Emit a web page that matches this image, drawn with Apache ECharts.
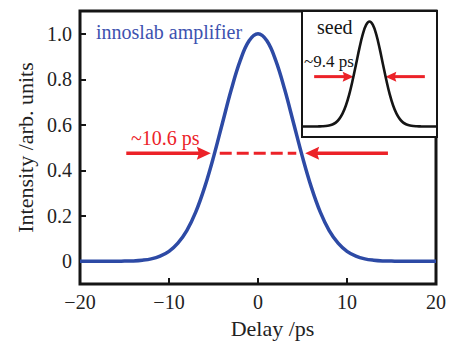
<!DOCTYPE html>
<html>
<head>
<meta charset="utf-8">
<script src="https://cdn.jsdelivr.net/npm/echarts@6/dist/echarts.min.js"></script>
<style>
  html, body { margin: 0; padding: 0; background: #fff; }
  #chart { width: 449px; height: 344px; }
</style>
</head>
<body>
<div id="chart"></div>
<script>
// Delay axis samples (ps)
const delayPs = [-20, -19, -18, -17, -16, -15, -14, -13, -12, -11, -10, -9, -8, -7, -6, -5, -4, -3, -2, -1,
  0, 1, 2, 3, 4, 5, 6, 7, 8, 9, 10, 11, 12, 13, 14, 15, 16, 17, 18, 19, 20];

// Amplified pulse (innoslab amplifier), normalised intensity
const amplifierIntensity = [0, 0, 0, 0, 0, 0.001, 0.002, 0.005, 0.011, 0.023, 0.044, 0.080, 0.135, 0.216, 0.325, 0.458, 0.607, 0.755, 0.882, 0.969,
  1.000, 0.969, 0.882, 0.755, 0.607, 0.458, 0.325, 0.216, 0.135, 0.080, 0.044, 0.023, 0.011, 0.005, 0.002, 0.001, 0, 0, 0, 0, 0];

// Seed pulse, normalised intensity (inset)
const seedIntensity = [0, 0, 0, 0, 0, 0.001, 0.002, 0.004, 0.009, 0.019, 0.037, 0.070, 0.122, 0.200, 0.306, 0.440, 0.591, 0.744, 0.877, 0.968,
  1.000, 0.968, 0.877, 0.744, 0.591, 0.440, 0.306, 0.200, 0.122, 0.070, 0.037, 0.019, 0.009, 0.004, 0.002, 0.001, 0, 0, 0, 0, 0];

// Tick positions
const xTicks = [-20, -10, 0, 10, 20];
const yTicks = [0, 0.2, 0.4, 0.6, 0.8, 1.0];

// Pulse widths (ps) and width markers
const amplifierWidthPs = 10.6;
const seedWidthPs = 9.4;
const markerLevel = 0.475;
const amplifierArrowTails = [-14.8, 14.6];
const seedArrowTails = [-16.4, 16.4];
const dashSpan = [-4.3, 4.3];

const RED = '#ec2228';
const BLUE = '#2d4aa5';
const INK = '#151515';
const SERIF = 'Liberation Serif';

const amplifierData = delayPs.map((t, i) => [t, amplifierIntensity[i]]);
const seedData = delayPs.map((t, i) => [t, seedIntensity[i]]);

// Each arrow: [tail, tip, level]
const amplifierArrows = [
  [amplifierArrowTails[0], -amplifierWidthPs / 2, markerLevel],
  [amplifierArrowTails[1], amplifierWidthPs / 2, markerLevel]
];
const seedArrows = [
  [seedArrowTails[0], -seedWidthPs / 2, markerLevel],
  [seedArrowTails[1], seedWidthPs / 2, markerLevel]
];

function arrowRenderer(headLen, headHalf, lineWidth) {
  return function (params, api) {
    const tail = api.coord([api.value(0), api.value(2)]);
    const tip = api.coord([api.value(1), api.value(2)]);
    const dir = Math.sign(tip[0] - tail[0]);
    const y = tip[1];
    const base = tip[0] - dir * headLen;
    return {
      type: 'group',
      children: [
        {
          type: 'line',
          shape: { x1: tail[0], y1: y, x2: tip[0] - dir * headLen * 0.7, y2: y },
          style: { stroke: RED, lineWidth: lineWidth }
        },
        {
          type: 'polygon',
          shape: { points: [[tip[0], y], [base, y - headHalf], [tip[0] - dir * headLen * 0.85, y], [base, y + headHalf]] },
          style: { fill: RED }
        }
      ]
    };
  };
}

// Free-standing annotations, placed by their top-left corner
function note(text, left, top, color, size) {
  return {
    text: text, left: left, top: top, padding: 0, z: 10,
    textStyle: { fontFamily: SERIF, fontSize: size, fontWeight: 'normal', color: color, lineHeight: size }
  };
}

const chart = echarts.init(document.getElementById('chart'), null, { renderer: 'svg' });

const tickLabelStyle = { fontFamily: SERIF, fontSize: 20, color: '#222' };

chart.setOption({
  animation: false,
  backgroundColor: '#fff',
  title: [
    note('innoslab amplifier', 96, 22, '#3d52b0', 20),
    note('~10.6 ps', 131, 128, RED, 20),
    note('seed', 317, 17, INK, 20),
    note('~9.4 ps', 304, 53, INK, 17)
  ],
  grid: [
    { left: 80, top: 11, right: 11, bottom: 51, show: true, borderColor: INK, borderWidth: 3, backgroundColor: 'transparent' },
    { left: 302, top: 11, right: 12, bottom: 207, show: true, borderColor: INK, borderWidth: 2, backgroundColor: '#fff', z: 3 }
  ],
  xAxis: [
    {
      type: 'value', gridIndex: 0, min: -20, max: 20, position: 'bottom',
      axisLine: { show: false, onZero: false },
      splitLine: { show: false },
      axisTick: { show: true, inside: true, length: 6, lineStyle: { color: INK, width: 2 }, customValues: xTicks },
      axisLabel: Object.assign({ margin: 8, customValues: xTicks, formatter: v => String(v).replace('-', '\u2212') }, tickLabelStyle),
      name: 'Delay /ps', nameLocation: 'middle', nameGap: 28,
      nameTextStyle: { fontFamily: SERIF, fontSize: 22, color: '#222', padding: [0, 0, 0, 29] }
    },
    { type: 'value', gridIndex: 1, min: -20, max: 20, show: false }
  ],
  yAxis: [
    {
      type: 'value', gridIndex: 0, min: -0.1, max: 1.1, position: 'left',
      axisLine: { show: false, onZero: false },
      splitLine: { show: false },
      axisTick: { show: true, inside: true, length: 6, lineStyle: { color: INK, width: 2 }, customValues: yTicks },
      axisLabel: Object.assign({ margin: 8, customValues: yTicks, formatter: v => (v === 0 ? '0' : v.toFixed(1)) }, tickLabelStyle),
      name: 'Intensity /arb. units', nameLocation: 'middle', nameGap: 44, nameRotate: 90,
      nameTextStyle: { fontFamily: SERIF, fontSize: 22, color: '#222' }
    },
    { type: 'value', gridIndex: 1, min: -0.1, max: 1.1, show: false }
  ],
  series: [
    {
      name: 'innoslab amplifier', type: 'line', xAxisIndex: 0, yAxisIndex: 0,
      data: amplifierData, smooth: 0.4, showSymbol: false,
      lineStyle: { color: BLUE, width: 3.5 }, z: 2
    },
    {
      name: 'amplifier width', type: 'line', xAxisIndex: 0, yAxisIndex: 0,
      data: [[dashSpan[0], markerLevel], [dashSpan[1], markerLevel]], showSymbol: false,
      lineStyle: { color: RED, width: 3, type: [12, 5] }, z: 3
    },
    {
      name: 'amplifier arrows', type: 'custom', xAxisIndex: 0, yAxisIndex: 0,
      data: amplifierArrows, encode: { x: [0, 1], y: 2 },
      renderItem: arrowRenderer(14, 6.5, 3.5), z: 3
    },
    {
      name: 'seed', type: 'line', xAxisIndex: 1, yAxisIndex: 1,
      data: seedData, smooth: 0.4, showSymbol: false,
      lineStyle: { color: INK, width: 2.6 }, z: 5
    },
    {
      name: 'seed arrows', type: 'custom', xAxisIndex: 1, yAxisIndex: 1,
      data: seedArrows, encode: { x: [0, 1], y: 2 },
      renderItem: arrowRenderer(11, 5, 3), z: 5
    }
  ]
});
</script>
</body>
</html>
